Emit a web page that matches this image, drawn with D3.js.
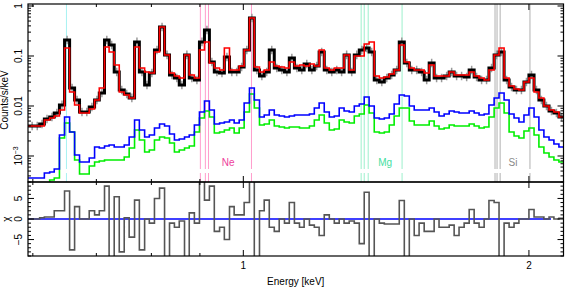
<!DOCTYPE html>
<html>
<head>
<meta charset="utf-8">
<script src="https://cdn.jsdelivr.net/npm/d3@7/dist/d3.min.js"></script>
<style>
  body { margin: 0; background: #fff; }
  svg { display: block; }
  text { font-family: "Liberation Sans", Arial, sans-serif; font-size: 10px; }
</style>
</head>
<body>
<svg width="566" height="288"></svg>
<script>
// bin edges (keV)
var edges = [0.588,0.595,0.603,0.610,0.617,0.625,0.632,0.640,0.648,0.656,
  0.664,0.672,0.680,0.688,0.697,0.705,0.714,0.722,0.731,0.740,
  0.749,0.758,0.768,0.777,0.787,0.796,0.806,0.816,0.826,0.836,
  0.846,0.856,0.867,0.877,0.888,0.899,0.910,0.921,0.932,0.944,
  0.955,0.967,0.978,0.990,1.002,1.015,1.027,1.040,1.052,1.065,
  1.078,1.091,1.105,1.118,1.132,1.146,1.159,1.174,1.188,1.202,
  1.217,1.232,1.247,1.262,1.277,1.293,1.309,1.325,1.341,1.357,
  1.374,1.391,1.408,1.425,1.442,1.460,1.478,1.496,1.514,1.532,
  1.551,1.570,1.589,1.608,1.628,1.648,1.668,1.688,1.709,1.730,
  1.751,1.772,1.794,1.815,1.838,1.860,1.883,1.906,1.929,1.952,
  1.976,2.000,2.025,2.049,2.074,2.100,2.125,2.151,2.178];

// observed counts/s/keV
var dataCounts = [0.00398,0.00398,0.00398,0.00437,0.0055,0.00603,0.00724,0.0105,0.209,0.0229,
  0.0132,0.00759,0.00759,0.00955,0.0132,0.0182,0.209,0.166,0.0479,0.0209,
  0.0174,0.0145,0.191,0.0479,0.0263,0.0457,0.132,0.380,0.105,0.0417,
  0.0363,0.0263,0.105,0.0363,0.0331,0.191,0.331,0.0759,0.0479,0.0457,
  0.0955,0.0479,0.0479,0.0603,0.132,0.575,0.0525,0.0398,0.0479,0.132,
  0.0575,0.0525,0.0479,0.0912,0.0575,0.0525,0.0692,0.0525,0.0631,0.120,
  0.0525,0.0479,0.0525,0.0479,0.105,0.0479,0.105,0.132,0.145,0.120,
  0.0331,0.0302,0.0363,0.0417,0.0525,0.191,0.0724,0.0525,0.0525,0.0479,
  0.0331,0.0724,0.0363,0.0363,0.0398,0.0479,0.0398,0.0398,0.0380,0.0525,
  0.0380,0.0331,0.0331,0.0575,0.105,0.120,0.0331,0.0240,0.0209,0.0209,
  0.0302,0.0417,0.0209,0.0132,0.0100,0.00794,0.00724,0.00603];

// total model
var modelTotal = [0.00398,0.00398,0.00398,0.00398,0.00525,0.00575,0.00631,0.00832,0.145,0.0191,
  0.0105,0.00724,0.00724,0.00871,0.0132,0.0229,0.151,0.120,0.0661,0.0191,
  0.0166,0.0145,0.151,0.0575,0.0479,0.0457,0.120,0.380,0.105,0.0457,
  0.0398,0.0363,0.105,0.0417,0.0363,0.132,0.191,0.0724,0.0575,0.0525,
  0.145,0.0525,0.0525,0.0631,0.132,0.575,0.0603,0.0479,0.0525,0.0759,
  0.0631,0.0603,0.0575,0.0759,0.0631,0.0661,0.0631,0.0692,0.0631,0.132,
  0.0575,0.0525,0.0575,0.0575,0.105,0.0525,0.100,0.100,0.174,0.191,
  0.0398,0.0363,0.0380,0.0437,0.0525,0.166,0.0759,0.0575,0.0525,0.0525,
  0.0457,0.0661,0.0398,0.0398,0.0398,0.0479,0.0417,0.0417,0.0417,0.0479,
  0.0398,0.0363,0.0331,0.0525,0.105,0.145,0.0363,0.0251,0.0219,0.0209,
  0.0302,0.0363,0.0191,0.0145,0.0100,0.00832,0.00759,0.00603];

// model components
var compBlue = [0.000363,0.000363,0.000363,0.000363,0.000457,0.000479,0.00055,0.00263,0.00603,0.00302,
  0.00105,0.000759,0.000759,0.000912,0.00151,0.00145,0.00158,0.00166,0.00151,0.00151,
  0.00166,0.0024,0.00525,0.00331,0.0024,0.00263,0.00363,0.00437,0.00398,0.00275,
  0.00209,0.00219,0.0024,0.00263,0.00417,0.00759,0.0126,0.00832,0.00437,0.00457,
  0.00479,0.00525,0.00457,0.00525,0.0115,0.0229,0.0132,0.00603,0.00661,0.00832,
  0.00661,0.00631,0.00603,0.00631,0.00661,0.00661,0.00661,0.00692,0.00912,0.0115,
  0.00759,0.00603,0.00631,0.00912,0.00794,0.00759,0.0100,0.0110,0.0151,0.0100,
  0.00575,0.0055,0.00575,0.00692,0.0110,0.0166,0.0158,0.0100,0.00832,0.00832,
  0.00832,0.00912,0.00759,0.00631,0.00692,0.00794,0.00759,0.00724,0.00724,0.00794,
  0.00724,0.00661,0.00692,0.0105,0.0145,0.0182,0.0132,0.00692,0.00575,0.00479,
  0.00661,0.00912,0.00603,0.00331,0.0024,0.00209,0.00174,0.00151];

var compGreen = [0.000209,0.000209,0.000209,0.000209,0.000209,0.000331,0.000363,0.00229,0.00457,0.00302,
  0.000832,0.000437,0.000437,0.000631,0.000759,0.000794,0.000832,0.000832,0.000832,0.000832,
  0.000955,0.00145,0.00331,0.00209,0.0012,0.00132,0.00209,0.0024,0.00229,0.00182,
  0.0012,0.00132,0.00145,0.00158,0.00302,0.00575,0.00794,0.00603,0.00288,0.00302,
  0.00331,0.00363,0.00288,0.00363,0.00759,0.0174,0.00912,0.00417,0.00437,0.00525,
  0.00398,0.0038,0.00363,0.0038,0.0038,0.00363,0.00363,0.00398,0.00525,0.00661,
  0.00457,0.00331,0.00347,0.00525,0.00479,0.00457,0.00631,0.00692,0.0105,0.00724,
  0.00302,0.00288,0.00302,0.00417,0.00631,0.00912,0.00912,0.00501,0.00417,0.00417,
  0.00417,0.00501,0.00398,0.00347,0.00363,0.00417,0.00398,0.00398,0.00398,0.00437,
  0.00398,0.00363,0.0038,0.00603,0.00912,0.0115,0.00724,0.00302,0.00251,0.00229,
  0.00316,0.00363,0.00263,0.00151,0.00115,0.000955,0.000832,0.000759];

// residuals (chi)
var chi = [0,0,0,0.3,0.5,0.5,2,2,6.8,-7.5,
  3,0,0,2,1,2,8,-10,5.4,-8,
  0.3,-4.4,4.6,-7.5,0,-1,5,7.5,-10,-1,
  -2,-0.5,-10,1.5,-1,10,4.6,8,-3,-2,
  -5,3,1,1,4,10,-10,2,4.6,-2,
  -3,0,-1,4,-1,-2,0,-1.5,-2,-4,
  1,0,-1,0,-1,-0.5,-1,-6,6.5,-10,
  0,-1,-1.2,-1.2,-1.2,4.5,-10,0,-4,-1,
  -3,-3,0,-2,-2,-1.5,-4,-2,-1,2.3,
  -1,-2,0,4.5,4,-10,-1,-2,-1,0,
  0,2.3,0.5,0.5,0,0.5,0,0.2];

// line identifications (keV)
var oLines = [0.651];
var neLines = [0.901, 0.912, 0.919, 1.020];
var mgLines = [1.331, 1.341, 1.354, 1.470];
var siLines = [1.842, 1.851, 1.865, 2.005];
var elementLabels = [
  {text: "Ne", e: 0.964, color: "#ee3d9c"},
  {text: "Mg", e: 1.411, color: "#45e0a0"},
  {text: "Si", e: 1.924, color: "#888888"}
];

var xMajor = [1, 2], xMinor = [0.6, 0.7, 0.8, 0.9];
var yMajor = [0.001, 0.01, 0.1, 1];
var chiMajor = [-5, 0, 5];

var svg = d3.select("svg");
var L = 28, R = 563.5, T1 = 4, B1 = 182, T2 = 182, B2 = 256;

var x = d3.scaleLog().domain([0.593, 2.175]).range([L, R]);
var y = d3.scaleLog().domain([3.02e-4, 1.096]).range([B1, T1]);
var yr = d3.scaleLinear().domain([-9, 9]).range([B2, T2]);

var defs = svg.append("defs");
defs.append("clipPath").attr("id", "clipTop").append("rect")
  .attr("x", L).attr("y", T1).attr("width", R - L).attr("height", B1 - T1);
defs.append("clipPath").attr("id", "clipBot").append("rect")
  .attr("x", L).attr("y", T2).attr("width", R - L).attr("height", B2 - T2);

function stepPath(vals, ys) {
  var pts = vals.map(function (v, i) { return [edges[i], v]; });
  pts.push([edges[vals.length], vals[vals.length - 1]]);
  return d3.line()
    .x(function (d) { return x(d[0]); })
    .y(function (d) { return ys(d[1]); })
    .curve(d3.curveStepAfter)(pts);
}

// ---- top panel ----
var topG = svg.append("g").attr("clip-path", "url(#clipTop)");

function idLines(list, color) {
  list.forEach(function (e) {
    topG.append("line").attr("x1", x(e)).attr("x2", x(e)).attr("y1", T1).attr("y2", 169)
      .attr("stroke", color).attr("stroke-width", 1);
    topG.append("line").attr("x1", x(e)).attr("x2", x(e)).attr("y1", 173).attr("y2", B1)
      .attr("stroke", color).attr("stroke-width", 1);
  });
}
idLines(oLines, "#a6f2f2");
idLines(neLines, "#ff9dcc");
idLines(mgLines, "#9cf0cc");
idLines(siLines, "#b0b0b0");

topG.append("path").attr("d", stepPath(compGreen, y))
  .attr("fill", "none").attr("stroke", "#00ee00").attr("stroke-width", 1.6);
topG.append("path").attr("d", stepPath(compBlue, y))
  .attr("fill", "none").attr("stroke", "#0000ff").attr("stroke-width", 1.6);

// error bars
topG.append("g").selectAll("line").data(dataCounts).enter().append("line")
  .attr("x1", function (d, i) { return x(Math.sqrt(edges[i] * edges[i + 1])); })
  .attr("x2", function (d, i) { return x(Math.sqrt(edges[i] * edges[i + 1])); })
  .attr("y1", function (d) { return y(d * 1.22); })
  .attr("y2", function (d) { return y(d / 1.22); })
  .attr("stroke", "#9a9a9a").attr("stroke-width", 1.5);

topG.append("path").attr("d", stepPath(dataCounts, y))
  .attr("fill", "none").attr("stroke", "#000").attr("stroke-width", 3);
topG.append("path").attr("d", stepPath(modelTotal, y))
  .attr("fill", "none").attr("stroke", "#ff0000").attr("stroke-width", 1.6);

elementLabels.forEach(function (l) {
  svg.append("text").attr("x", x(l.e)).attr("y", 166).attr("text-anchor", "middle")
    .attr("fill", l.color).text(l.text);
});

// ---- bottom panel ----
var botG = svg.append("g").attr("clip-path", "url(#clipBot)");
botG.append("line").attr("x1", L).attr("x2", x(2.11)).attr("y1", yr(0)).attr("y2", yr(0))
  .attr("stroke", "#0000ff").attr("stroke-width", 1.6);
botG.append("path").attr("d", stepPath(chi, yr))
  .attr("fill", "none").attr("stroke", "#555").attr("stroke-width", 1.6);

// ---- frames and ticks ----
function tick(x1, y1, x2, y2) {
  svg.append("line").attr("x1", x1).attr("y1", y1).attr("x2", x2).attr("y2", y2)
    .attr("stroke", "#000").attr("stroke-width", 1);
}

function frame(t, b, ys, maj, min) {
  svg.append("rect").attr("x", L).attr("y", t).attr("width", R - L).attr("height", b - t)
    .attr("fill", "none").attr("stroke", "#000").attr("stroke-width", 1.2);
  xMajor.forEach(function (e) { tick(x(e), b, x(e), b - 6); tick(x(e), t, x(e), t + 6); });
  xMinor.forEach(function (e) { tick(x(e), b, x(e), b - 3); tick(x(e), t, x(e), t + 3); });
  maj.forEach(function (v) { tick(L, ys(v), L + 6, ys(v)); tick(R, ys(v), R - 6, ys(v)); });
  min.forEach(function (v) { tick(L, ys(v), L + 3, ys(v)); tick(R, ys(v), R - 3, ys(v)); });
}

var yMinor = [];
[1e-4, 1e-3, 1e-2, 1e-1].forEach(function (d) {
  for (var k = 2; k < 10; k++) {
    var v = k * d;
    if (v > y.domain()[0] && v < y.domain()[1]) yMinor.push(v);
  }
});
var chiMinor = d3.range(-9, 10).filter(function (v) { return chiMajor.indexOf(v) < 0; });

frame(T1, B1, y, yMajor, yMinor);
frame(T2, B2, yr, chiMajor, chiMinor);

// y tick labels (rotated)
yMajor.forEach(function (v) {
  var t = svg.append("text").attr("transform", "translate(22," + y(v) + ") rotate(-90)")
    .attr("text-anchor", "middle");
  if (v === 0.001) {
    t.append("tspan").text("10");
    t.append("tspan").attr("dy", -4).attr("font-size", "7px").text("\u22123");
  } else {
    t.text(String(v));
  }
});
chiMajor.forEach(function (v) {
  svg.append("text").attr("transform", "translate(22," + yr(v) + ") rotate(-90)")
    .attr("text-anchor", "middle").text(v < 0 ? "\u2212" + Math.abs(v) : String(v));
});

xMajor.forEach(function (e) {
  svg.append("text").attr("x", x(e)).attr("y", 268.5).attr("text-anchor", "middle").text(String(e));
});

svg.append("text").attr("x", (L + R) / 2).attr("y", 285).attr("text-anchor", "middle").text("Energy [keV]");
svg.append("text").attr("transform", "translate(8,100) rotate(-90)").attr("text-anchor", "middle").text("Counts/s/keV");
svg.append("text").attr("transform", "translate(10,219) rotate(-90)").attr("text-anchor", "middle").text("\u03c7");
</script>
</body>
</html>
